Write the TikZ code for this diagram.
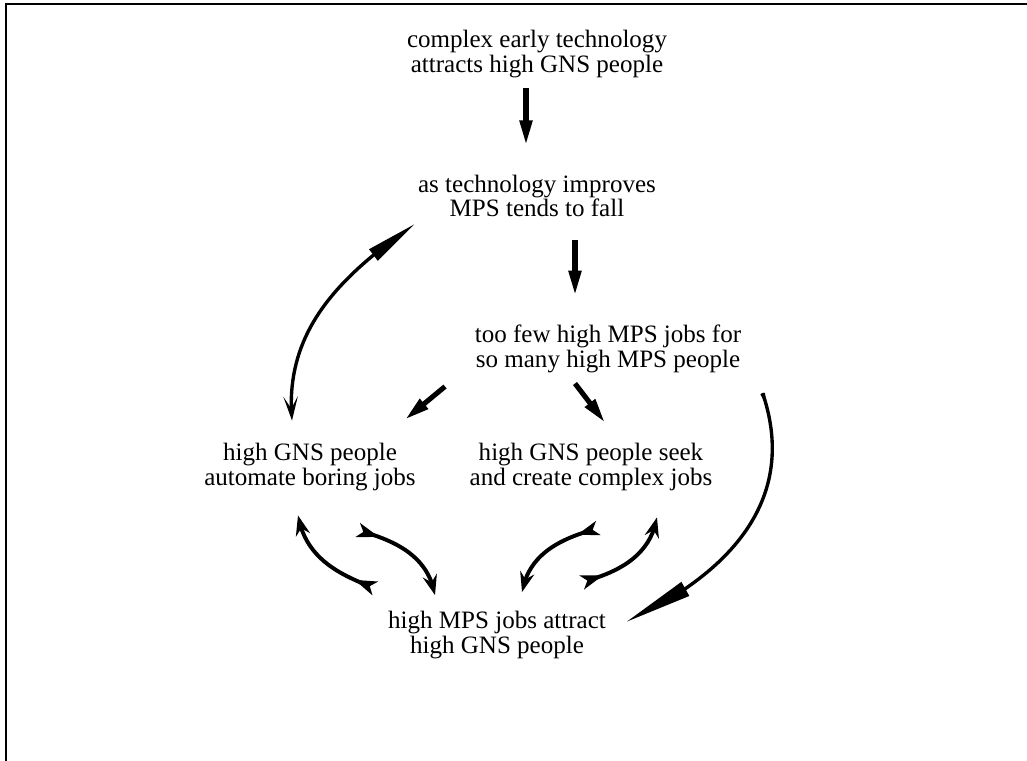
\documentclass[tikz,border=0pt]{standalone}
\usepackage{fontspec}
\setmainfont{Liberation Serif}
\usepackage{tikz}
\usetikzlibrary{arrows.meta,bending}

\begin{document}
\begin{tikzpicture}[
  x=0.025cm, y=0.025cm,
  every node/.style={font=\fontsize{17.8}{17.4}\selectfont},
  idea/.style={align=center, inner sep=0pt},
  push/.style={line width=3.6pt, -{Triangle[length=0.62cm, width=0.3cm]}},
  swing/.style={line width=2.8pt, {Stealth[reversed, length=0.55cm, width=0.36cm, inset=0.14cm]}-{Stealth[length=0.5cm, width=0.36cm, inset=0.17cm]}},
  sweep/.style={line width=2.4pt}
]
\useasboundingbox (0,0) rectangle (1027,761);
\draw[line width=1.4pt] (6,0) -- (6,757) -- (1027,757);

\node[idea] (early) at (537,707) {complex early technology\\attracts high GNS people};
\node[idea] (tech) at (537,565) {as technology improves\\MPS tends to fall};
\node[idea] (few) at (608,412) {too few high MPS jobs for\\so many high MPS people};
\node[idea] (auto) at (310,294) {high GNS people\\automate boring jobs};
\node[idea] (seek) at (591,294) {high GNS people seek\\and create complex jobs};
\node[idea] (attract) at (497,126) {high MPS jobs attract\\high GNS people};

% straight arrows
\foreach \a/\b/\p/\q in {early.south/tech.north/{-11,-10}/{-11,29.5},
                         tech.south/few.north/{38,-22.5}/{-33,29.5},
                         few.south/auto.north/{-163,-13.5}/{95,23.5},
                         few.south/seek.north/{-33,-10.5}/{14,20.5}}
  \draw[push] ([shift={(\p)}]\a) -- ([shift={(\q)}]\b);

% short loops between the lower nodes
\foreach \a/\b/\p/\q/\o/\i in {attract.north/auto.south/{-122,23}/{-12,-24.5}/160/-80,
                               auto.south/attract.north/{48,-39.5}/{-62,16}/-15/100,
                               seek.south/attract.north/{7,-37.5}/{25,19}/195/80,
                               attract.north/seek.south/{85,29}/{66,-26.5}/15/-100}
  \draw[swing] ([shift={(\p)}]\a) to[out=\o, in=\i] ([shift={(\q)}]\b);

% long sweeps
\draw[sweep, {Triangle[length=1.3cm, width=0.34cm]}-{Stealth[length=0.6cm, width=0.36cm, inset=0.3cm]}]
  ([shift={(-122,-6.5)}]tech.south) to[out=215, in=95] ([shift={(-18,22.5)}]auto.north);
\draw[sweep, {Triangle[length=1.7cm, width=0.38cm]}-{Stealth[length=1.1cm, width=0.42cm, inset=0.75cm]}]
  ([shift={(129,-11)}]attract.north) to[out=25, in=-70, looseness=1.1] ([shift={(153,-15.5)}]few.south);
\end{tikzpicture}
\end{document}
